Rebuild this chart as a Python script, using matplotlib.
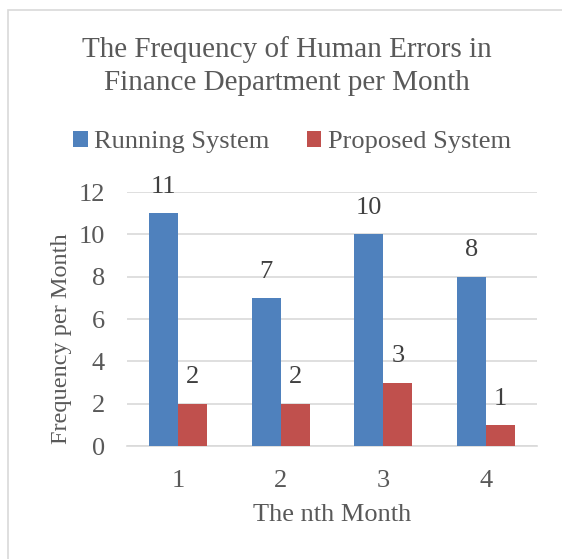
import numpy as np
import matplotlib
matplotlib.use('Agg')
from matplotlib import pyplot as plt
from matplotlib.patches import Rectangle

months = ['1', '2', '3', '4']
running = [11, 7, 10, 8]
proposed = [2, 2, 3, 1]

blue = '#4f81bd'
red = '#c0504d'
text_col = '#595959'
grid_col = '#d9d9d9'

plt.rcParams['font.family'] = ['Liberation Serif', 'DejaVu Serif']

fig = plt.figure(figsize=(5.62, 5.59), dpi=100)
ax = fig.add_axes([0.226, 0.2021, 0.7295, 0.4544])

# outer chart border
fig.patches.append(Rectangle((8 / 562, -0.1), 1.1, 1 - 10 / 559 + 0.1,
                             transform=fig.transFigure, fill=False,
                             edgecolor=grid_col, lw=1.2))

x = np.arange(len(months))
w = 0.283
b1 = ax.bar(x - w / 2, running, w, color=blue, label='Running System', zorder=3)
b2 = ax.bar(x + w / 2, proposed, w, color=red, label='Proposed System', zorder=3)

for bars in (b1, b2):
    for r in bars:
        ax.annotate('%d' % r.get_height(), (r.get_x() + r.get_width() / 2, r.get_height()),
                    xytext=(0, 11), textcoords='offset points', ha='center', va='bottom',
                    fontsize=19, color='#404040')

ax.set_xlim(-0.5, 3.5)
ax.set_ylim(0, 12)
ax.set_yticks(range(0, 13, 2))
ax.set_xticks(x)
ax.set_xticklabels(months)
ax.yaxis.grid(True, color=grid_col, lw=1.2, zorder=0)
for s in ['top', 'right', 'left']:
    ax.spines[s].set_visible(False)
ax.spines['bottom'].set_color(grid_col)
ax.spines['bottom'].set_linewidth(1.2)
ax.tick_params(length=0, labelsize=19, colors=text_col)
ax.tick_params(axis='y', pad=16)
ax.tick_params(axis='x', pad=17)

# axis titles placed like the original chart
fig.text(332 / 562, 1 - 515 / 559, 'The nth Month', ha='center', va='center',
         fontsize=19, color=text_col)
fig.text(62 / 562, 1 - 339 / 559, 'Frequency per Month', ha='center', va='center',
         rotation=90, fontsize=17.5, color=text_col)

fig.text(287 / 562, 1 - 66 / 559, 'The Frequency of Human Errors in\nFinance Department per Month',
         ha='center', va='center', fontsize=21, color=text_col, linespacing=1.33)

fig.legend(handles=[b1, b2], loc='center', bbox_to_anchor=(292 / 562, 1 - 142 / 559),
           ncol=2, frameon=False, fontsize=19, labelcolor=text_col,
           handlelength=0.55, handleheight=0.55, handletextpad=0.25, columnspacing=1.4)

fig.savefig('out.png', dpi=100)
